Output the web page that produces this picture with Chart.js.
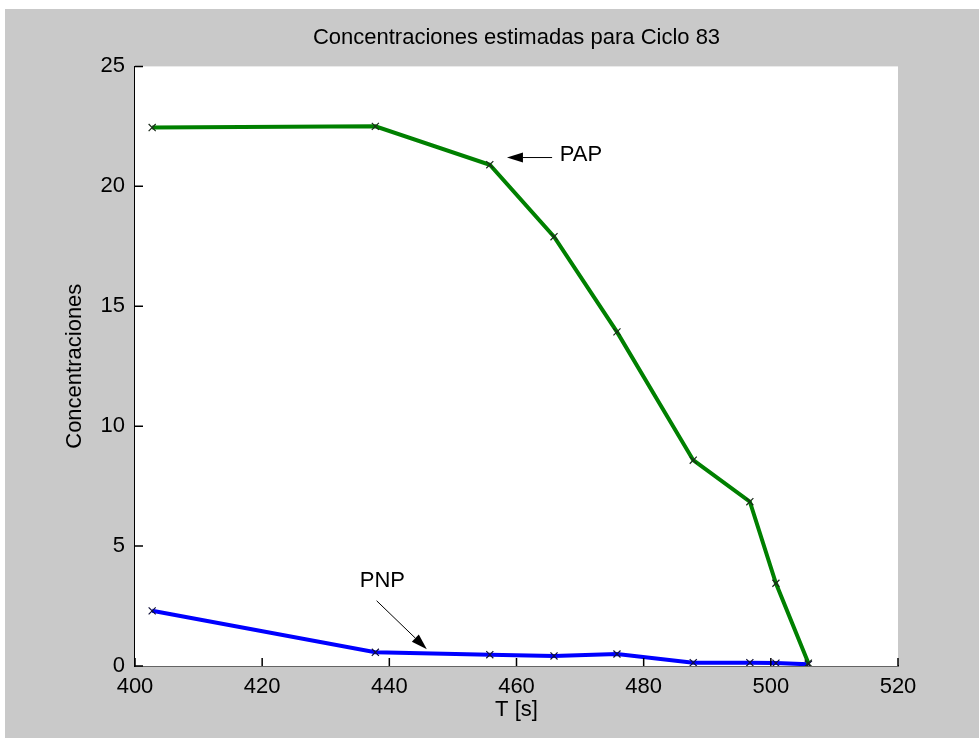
<!DOCTYPE html>
<html>
<head>
<meta charset="utf-8">
<script src="https://cdn.jsdelivr.net/npm/chart.js@4.4.1/dist/chart.umd.min.js"></script>
<style>
  html, body { margin: 0; padding: 0; background: #ffffff; }
  #wrap { position: absolute; left: 5px; top: 9px; width: 974px; height: 729px; background: #c9c9c9; }
  canvas { display: block; }
</style>
</head>
<body>
<div id="wrap"><canvas id="chart" width="974" height="729"></canvas></div>
<script>
// sampling instants of cycle 83
const tiempos = [402.7, 437.8, 455.8, 465.9, 475.8, 487.8, 496.7, 500.8, 505.9];
// estimated concentrations
const pap = [22.45, 22.5, 20.9, 17.9, 13.93, 8.58, 6.85, 3.45, 0.12];
const pnp = [2.3, 0.57, 0.47, 0.42, 0.5, 0.14, 0.14, 0.12, 0.07];
const xTicks = [400, 420, 440, 460, 480, 500, 520];
const yTicks = [0, 5, 10, 15, 20, 25];

const FONT = '"Liberation Sans", Arial, sans-serif';

// text labels with arrows, in data units
const notas = [
  { texto: "PAP", x: 466.8, y: 21.3, align: "left", desde: [465.6, 21.2], hasta: [458.5, 21.2] },
  { texto: "PNP", x: 438.9, y: 3.56, align: "center", desde: [438.0, 2.72], hasta: [445.9, 0.70] }
];

function toPoints(xs, ys) {
  return xs.map((x, i) => ({ x: x, y: ys[i] }));
}

// white plot box, inward ticks and the arrow labels
const ejesMatlab = {
  id: "ejesMatlab",
  beforeDatasetsDraw(chart) {
    const { ctx, chartArea: a } = chart;
    ctx.save();
    ctx.fillStyle = "#ffffff";
    ctx.fillRect(a.left, a.top, a.right - a.left, a.bottom - a.top);
    ctx.restore();
  },
  afterDatasetsDraw(chart) {
    const { ctx, chartArea: a, scales } = chart;
    ctx.save();
    ctx.strokeStyle = "#000000";
    ctx.lineWidth = 1.5;
    ctx.beginPath();
    xTicks.forEach((v) => {
      const px = scales.x.getPixelForValue(v);
      ctx.moveTo(px, a.bottom);
      ctx.lineTo(px, a.bottom - 8);
    });
    yTicks.forEach((v) => {
      const py = scales.y.getPixelForValue(v);
      ctx.moveTo(a.left, py);
      ctx.lineTo(a.left + 8, py);
    });
    ctx.stroke();

    ctx.fillStyle = "#000000";
    ctx.lineWidth = 1;
    ctx.font = "22px " + FONT;
    ctx.textBaseline = "middle";
    notas.forEach((n) => {
      ctx.textAlign = n.align;
      ctx.fillText(n.texto, scales.x.getPixelForValue(n.x), scales.y.getPixelForValue(n.y));
      const x0 = scales.x.getPixelForValue(n.desde[0]);
      const y0 = scales.y.getPixelForValue(n.desde[1]);
      const x1 = scales.x.getPixelForValue(n.hasta[0]);
      const y1 = scales.y.getPixelForValue(n.hasta[1]);
      const ang = Math.atan2(y1 - y0, x1 - x0);
      const largo = 16, ancho = 5;
      const bx = x1 - largo * Math.cos(ang), by = y1 - largo * Math.sin(ang);
      ctx.beginPath();
      ctx.moveTo(x0, y0);
      ctx.lineTo(bx, by);
      ctx.stroke();
      ctx.beginPath();
      ctx.moveTo(x1, y1);
      ctx.lineTo(bx + ancho * Math.sin(ang), by - ancho * Math.cos(ang));
      ctx.lineTo(bx - ancho * Math.sin(ang), by + ancho * Math.cos(ang));
      ctx.closePath();
      ctx.fill();
    });
    ctx.restore();
  }
};

new Chart(document.getElementById("chart"), {
  type: "line",
  data: {
    datasets: [
      {
        label: "PAP",
        data: toPoints(tiempos, pap),
        borderColor: "#008000",
        borderWidth: 4,
        pointStyle: "crossRot",
        pointRadius: 5,
        pointBorderWidth: 1.2,
        pointBorderColor: "#1a2a1a",
        tension: 0
      },
      {
        label: "PNP",
        data: toPoints(tiempos, pnp),
        borderColor: "#0000ff",
        borderWidth: 4,
        pointStyle: "crossRot",
        pointRadius: 5,
        pointBorderWidth: 1.2,
        pointBorderColor: "#10103a",
        tension: 0
      }
    ]
  },
  options: {
    responsive: false,
    animation: false,
    layout: { padding: { left: 0, right: 81, top: 0, bottom: 0 } },
    plugins: {
      legend: { display: false },
      tooltip: { enabled: false },
      title: {
        display: true,
        fullSize: false,
        text: "Concentraciones estimadas para Ciclo 83",
        color: "#000000",
        font: { family: FONT, size: 22, weight: "normal" },
        padding: { top: 16, bottom: 15 }
      }
    },
    scales: {
      x: {
        type: "linear",
        min: 400,
        max: 520,
        afterFit: (s) => { s.height = 72; },
        afterBuildTicks: (s) => { s.ticks = xTicks.map((v) => ({ value: v })); },
        grid: { display: false, drawTicks: false },
        border: { display: true, color: "#000000", width: 1.5 },
        ticks: { color: "#000000", padding: 8, maxRotation: 0, font: { family: FONT, size: 22 } },
        title: {
          display: true,
          text: "T [s]",
          color: "#000000",
          font: { family: FONT, size: 22 },
          padding: { top: 0, bottom: 15 }
        }
      },
      y: {
        min: 0,
        max: 25,
        afterFit: (s) => { s.width = 130; },
        afterBuildTicks: (s) => { s.ticks = yTicks.map((v) => ({ value: v })); },
        grid: { display: false, drawTicks: false },
        border: { display: true, color: "#000000", width: 1.5 },
        ticks: { color: "#000000", padding: 10, font: { family: FONT, size: 22 } },
        title: {
          display: true,
          text: "Concentraciones",
          color: "#000000",
          font: { family: FONT, size: 22 },
          padding: { top: 57, bottom: 0 }
        }
      }
    }
  },
  plugins: [ejesMatlab]
});
</script>
</body>
</html>
